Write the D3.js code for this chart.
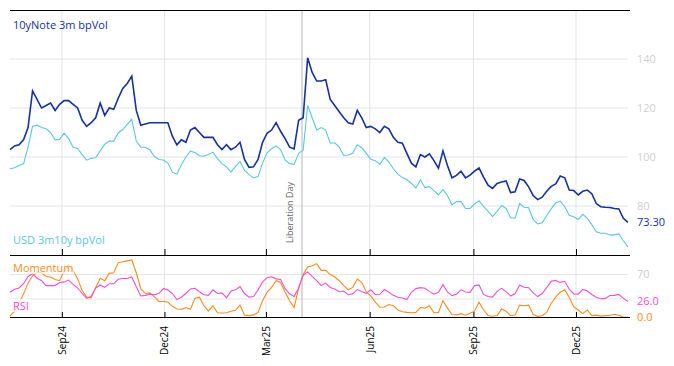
<!DOCTYPE html>
<html><head><meta charset="utf-8">
<script src="https://cdn.jsdelivr.net/npm/d3@7"></script>
<style>body{margin:0;background:#fff;} svg{display:block;font-family:"Open Sans",sans-serif;}</style>
</head><body><svg id="c" width="674" height="366"></svg>
<script>
const dates = ["2024-07-17","2024-07-21","2024-07-25","2024-07-29","2024-08-02","2024-08-06","2024-08-10","2024-08-14","2024-08-18","2024-08-22",
"2024-08-26","2024-08-30","2024-09-03","2024-09-07","2024-09-11","2024-09-15","2024-09-19","2024-09-23","2024-09-27","2024-10-01",
"2024-10-05","2024-10-09","2024-10-13","2024-10-17","2024-10-21","2024-10-25","2024-10-29","2024-11-02","2024-11-06","2024-11-10",
"2024-11-14","2024-11-18","2024-11-22","2024-11-26","2024-11-30","2024-12-04","2024-12-08","2024-12-12","2024-12-16","2024-12-20",
"2024-12-24","2024-12-28","2025-01-01","2025-01-05","2025-01-09","2025-01-13","2025-01-17","2025-01-21","2025-01-25","2025-01-29",
"2025-02-02","2025-02-06","2025-02-10","2025-02-14","2025-02-18","2025-02-22","2025-02-26","2025-03-02","2025-03-06","2025-03-10",
"2025-03-14","2025-03-18","2025-03-22","2025-03-26","2025-03-30","2025-04-03","2025-04-07","2025-04-11","2025-04-15","2025-04-19",
"2025-04-23","2025-04-27","2025-05-01","2025-05-05","2025-05-09","2025-05-13","2025-05-17","2025-05-21","2025-05-25","2025-05-29",
"2025-06-02","2025-06-06","2025-06-10","2025-06-14","2025-06-18","2025-06-22","2025-06-26","2025-06-30","2025-07-04","2025-07-08",
"2025-07-12","2025-07-16","2025-07-20","2025-07-24","2025-07-28","2025-08-01","2025-08-05","2025-08-09","2025-08-13","2025-08-17",
"2025-08-21","2025-08-25","2025-08-29","2025-09-02","2025-09-06","2025-09-10","2025-09-14","2025-09-18","2025-09-22","2025-09-26",
"2025-09-30","2025-10-04","2025-10-08","2025-10-12","2025-10-16","2025-10-20","2025-10-24","2025-10-28","2025-11-01","2025-11-05",
"2025-11-09","2025-11-13","2025-11-17","2025-11-21","2025-11-25","2025-11-29","2025-12-03","2025-12-07","2025-12-11","2025-12-15",
"2025-12-19","2025-12-23","2025-12-27","2025-12-31","2026-01-04","2026-01-08","2026-01-12","2026-01-16"];

const note10y = [103,104.5,105,107,112,127,123.5,120,121,122,
119,121.5,123,123,121.5,120,115,112.5,114,116,
122,117,120,119.5,124,128,130,133,119,113,
113.5,114,114,114,114,114,108.5,105,107,106,
111,112,110,108,108,108,105,103,105,103,
104,106,99,95.8,96,99,106,109.7,111,114,
110.5,107.5,104,103.3,115,116,140.5,134.5,131,131,
131.5,123.5,121,118.5,116,114,113.5,119,116,112,
112.5,111.5,110,112.5,111.5,108,106,105.6,101.5,97.5,
96,101,100,101.3,98.5,95.4,102.5,96.5,91.5,92.5,
94.2,91.5,92.6,94.2,95.5,91.8,88.5,87.2,89.2,89.8,
90.2,85.5,85.8,91,90.4,87.8,84.3,82.6,83.6,86,
88,89,92.2,91.5,86.5,86.3,84.5,86,86.5,85,
81,79.7,79.5,79.4,79,78.8,75,73.3];

const usd3m10y = [95.2,95.6,96.5,97.2,104,112.6,113,112,111.5,110,
107,107.2,109.7,107.5,104,103.5,101,98.7,99.5,99.7,
102.5,105.2,106.5,106.5,109.8,111.2,113.3,115.4,106.5,104,
104,103,100.2,99,98.8,97.5,93.8,93,96.8,100,
102.4,101.8,100.5,100.3,101,102,99.3,97.3,96,93.8,
96.2,98.1,94.5,92.8,91.5,92,97.5,101.7,103.4,104.5,
103,98.8,97.3,97,101.5,102.8,121,116,111,112,
111,105.6,105.8,104,100.6,100.8,101.5,105,103.8,101.5,
99.1,98.5,97,99.8,97.9,95.2,93,91.6,90.8,89.2,
87.3,90.7,87.5,87.9,86.3,84.5,86.7,84.3,80.4,81.8,
81.8,79,79,80.8,82.1,79.8,77.8,75.7,77.8,80.2,
79,75.2,75,81,79.5,79.3,74.5,72.7,73.2,76,
78.8,81.2,82,79.7,76.2,75.6,74.5,76.6,75,72.4,
69.5,68.9,68.9,68.2,68.2,68.6,65.8,63.3];

const momentum = [2,10,24,38,56,68,74,73,67,66,
62,60,76,86,77,63,44,33,32,49,
64,60,72,73,89.6,91,92.5,94,73,47,
39,40,34,26,26,25,18,13.5,13,16,
13,31,33,19,10,19,7.5,7,7.5,10,
11.5,20,3.5,2.8,4,8,27,41,49,60,
57,41,27,16,48,70,82.5,84.5,88,77,
77,70,66,60,52,45,49,62.5,57,42,
35,25,16.5,17,21,19,12,9,8,7.5,
8,16,15,19,7.5,8,27,15,4.5,4,
6,3.5,6.5,10,25,12,3,1.8,3,13.5,
10,2.5,4,20,19,20,4.5,1.6,2.5,8,
23,33,41,45,33,17,12,6,12,2.8,
3.5,2,2.8,3,5,3.5,0.5,0];

const rsi = [41,46,48,55,67,71.5,64,60,52,52,
52,57,58,61,54,48,39,31,34.5,48,
53,49,55,55,62.5,63.5,63.5,66,50,35,
36,38,37,39,47,45,39,29,33,39,
46.5,47.5,42,37,36,45,39,40,32,43,
45,50.5,39,33,34,45,58,65,66.5,63,
62,47,38.5,34.3,48,69,74.5,67,60,52,
56,49,46.5,42,43,37,38.5,45.5,42,39.2,
45,37.5,37.7,45.5,41,36,33,31.5,29,41,
47,48.7,47.5,42.5,37.8,41,53.5,41.5,35.5,37.8,
45,41.5,40.8,52,53,37.5,34,33.2,42.5,47.5,
42,34.8,39,53,49.2,48.5,40,34,39,48.6,
59,60.5,57.2,59,46,38.2,38,45.7,43,37.3,
33,30.4,31,35.8,36,37.5,31,26];

const tickDates = ["2024-09-01","2024-12-01","2025-03-01","2025-06-01","2025-09-01","2025-12-01"];
const tickLabels = ["Sep24","Dec24","Mar25","Jun25","Sep25","Dec25"];
const volTicks = [80,100,120,140];
const oscGrid = [30,70];
const oscLabels = [70];
const eventDate = "2025-04-02";
const eventLabel = "Liberation Day";
const seriesNames = ["10yNote 3m bpVol","USD 3m10y bpVol","Momentum","RSI"];
const colors = {note:"#1432a0", usd:"#5ac8e1", mom:"#ff8c1a", rsi:"#f24fd6"};

const parse = d3.timeParse("%Y-%m-%d");
const D = dates.map(parse);
const svg = d3.select("#c");

const x = d3.scaleTime().domain([parse("2024-07-17"), parse("2026-01-17")]).range([10, 629]);
const yTop = d3.scaleLinear().domain([60,160]).range([255,10]);
const yBot = d3.scaleLinear().domain([0,100]).range([317.3,256.3]);

const grid = "#e4e4e4";
// horizontal grids top
svg.append("g").selectAll("line").data(volTicks).join("line")
  .attr("x1",10).attr("x2",628).attr("y1",d=>yTop(d)).attr("y2",d=>yTop(d))
  .attr("stroke",grid).attr("stroke-width",1);
svg.append("g").selectAll("line").data(oscGrid).join("line")
  .attr("x1",10).attr("x2",628).attr("y1",d=>yBot(d)).attr("y2",d=>yBot(d))
  .attr("stroke",grid).attr("stroke-width",1);
// vertical grids
svg.append("g").selectAll("line").data(tickDates.map(parse)).join("line")
  .attr("x1",d=>x(d)).attr("x2",d=>x(d)).attr("y1",10).attr("y2",317)
  .attr("stroke",grid).attr("stroke-width",1);

// event line
const ex = x(parse(eventDate));
svg.append("line").attr("x1",ex).attr("x2",ex).attr("y1",10).attr("y2",317)
  .attr("stroke","#b5b5b5").attr("stroke-width",1);
svg.append("text").attr("transform",`translate(${ex-9},243) rotate(-90)`)
  .attr("font-size",9).attr("fill","#666").text(eventLabel);

// lines
const lineTop = arr => d3.line().x((d,i)=>x(D[i])).y(d=>yTop(d))(arr);
const lineBot = arr => d3.line().x((d,i)=>x(D[i])).y(d=>yBot(d))(arr);
svg.append("path").attr("d",lineTop(usd3m10y)).attr("fill","none").attr("stroke",colors.usd).attr("stroke-width",1.1);
svg.append("path").attr("d",lineTop(note10y)).attr("fill","none").attr("stroke",colors.note).attr("stroke-width",1.6);
svg.append("path").attr("d",lineBot(momentum)).attr("fill","none").attr("stroke",colors.mom).attr("stroke-width",1.1);
svg.append("path").attr("d",lineBot(rsi)).attr("fill","none").attr("stroke",colors.rsi).attr("stroke-width",1.1);

// frame lines
svg.append("line").attr("x1",10).attr("x2",630).attr("y1",10.5).attr("y2",10.5).attr("stroke","#000");
const axTop = d3.axisBottom(x).tickValues(tickDates.map(parse)).tickFormat("").tickSizeInner(-6).tickSizeOuter(0);
svg.append("g").attr("transform","translate(0,255)").call(axTop)
  .call(g=>g.select(".domain").attr("d","M10,0.5H630"));
const axBot = d3.axisBottom(x).tickValues(tickDates.map(parse)).tickFormat((d,i)=>tickLabels[i]).tickSizeInner(-5).tickSizeOuter(0);
const gb = svg.append("g").attr("transform","translate(0,317)").call(axBot);
gb.select(".domain").attr("d","M10,0.5H630");
gb.selectAll("text").attr("transform","rotate(-90)").attr("x",-9).attr("y",0).attr("dy","0.35em")
  .attr("text-anchor","end").attr("font-size",10).attr("fill","#000").attr("font-family","Open Sans, sans-serif");

// right labels
const rl = svg.append("g").attr("font-size",11);
rl.selectAll("text.v").data(volTicks).join("text").attr("class","v")
  .attr("x",637).attr("y",d=>yTop(d)).attr("dy","0.35em").attr("fill","#cfcfcf").text(d=>d);
rl.selectAll("text.o").data(oscLabels).join("text").attr("class","o")
  .attr("x",637).attr("y",d=>yBot(d)).attr("dy","0.35em").attr("fill","#cfcfcf").text(d=>d);
rl.append("text").attr("x",637).attr("y",yTop(note10y[note10y.length-1])).attr("dy","0.35em")
  .attr("fill",colors.note).text(note10y[note10y.length-1].toFixed(2));
rl.append("text").attr("x",637).attr("y",yBot(rsi[rsi.length-1])).attr("dy","0.35em")
  .attr("fill",colors.rsi).text(rsi[rsi.length-1].toFixed(1));
rl.append("text").attr("x",637).attr("y",yBot(momentum[momentum.length-1])).attr("dy","0.35em")
  .attr("fill",colors.mom).text(momentum[momentum.length-1].toFixed(1));

// legends
const leg = [
  {t:seriesNames[0], y:29, c:colors.note, bg:false},
  {t:seriesNames[1], y:244, c:colors.usd, bg:false},
  {t:seriesNames[2], y:272, c:colors.mom, bg:true},
  {t:seriesNames[3], y:310, c:colors.rsi, bg:true}
];
leg.forEach(l=>{
  const t = svg.append("text").attr("x",13).attr("y",l.y).attr("font-size",11).attr("fill",l.c).text(l.t);
  if(l.bg){
    const b = t.node().getBBox();
    svg.insert("rect", function(){return t.node();}).attr("x",b.x-1).attr("y",b.y+1).attr("width",b.width+2).attr("height",b.height-2)
      .attr("fill","#fff").attr("opacity",0.7);
  }
});
</script></body></html>
